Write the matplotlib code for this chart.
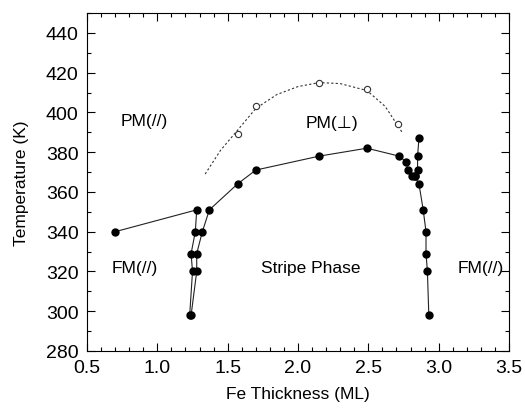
import matplotlib
matplotlib.use("Agg")
import matplotlib.pyplot as plt
from matplotlib.ticker import MultipleLocator

plt.rcParams['font.family'] = ['Liberation Sans', 'DejaVu Sans']

# left boundary: FM(//) -> PM and left edge of stripe phase
left_x = [0.70, 1.28, 1.27, 1.24, 1.25, 1.23]
left_T = [340, 351, 340, 329, 320, 298]

# stripe phase boundary (right side of left branch, top, right branch)
stripe_x = [1.24, 1.28, 1.28, 1.32, 1.37, 1.57, 1.70, 2.15, 2.49, 2.72, 2.77,
            2.78, 2.81, 2.83, 2.86, 2.89, 2.91, 2.91, 2.92, 2.93]
stripe_T = [298, 320, 329, 340, 351, 364, 371, 378, 382, 378, 375,
            371, 368, 368, 364, 351, 340, 329, 320, 298]

# branch going up at the right side
branch_x = [2.83, 2.85, 2.85, 2.86]
branch_T = [368, 371, 378, 387]

# PM(perp) -> PM(//) transition, open symbols
perp_x = [1.57, 1.70, 2.15, 2.49, 2.71]
perp_T = [389, 403, 415, 412, 394]

# guide-to-the-eye curve
guide_x = [1.34, 1.45, 1.57, 1.70, 1.85, 2.00, 2.15, 2.30, 2.49, 2.62, 2.74]
guide_T = [369, 381, 391, 402, 409, 413, 415, 414.5, 411, 403, 390]

fig = plt.figure(figsize=(5.25, 4.10), dpi=100)
ax = fig.add_axes([87 / 525, 1 - 352 / 410, (509 - 87) / 525, (352 - 14) / 410])

line_kw = dict(color='#222222', lw=0.8, marker='o', ms=5,
               mfc='black', mec='black')
ax.plot(left_x, left_T, **line_kw)
ax.plot(stripe_x, stripe_T, **line_kw)
ax.plot(branch_x, branch_T, **line_kw)

ax.plot(guide_x, guide_T, color='#333333', lw=0.8, ls=(0, (2, 2)))
ax.plot(perp_x, perp_T, ls='none', marker='o', ms=4.5, mfc='white',
        mec='#333333', mew=0.8)

txt = dict(fontsize=12.5, ha='center', va='center')
ax.text(0.91, 396, 'PM(//)', **txt)
ax.text(2.24, 395, 'PM(\u22a5)', **txt)
ax.text(0.84, 322, 'FM(//)', **txt)
ax.text(2.09, 322, 'Stripe Phase', **txt)
ax.text(3.30, 322, 'FM(//)', **txt)

ax.set_xlim(0.5, 3.5)
ax.set_ylim(280, 450)
ax.xaxis.set_major_locator(MultipleLocator(0.5))
ax.xaxis.set_minor_locator(MultipleLocator(0.1))
ax.yaxis.set_major_locator(MultipleLocator(20))
ax.yaxis.set_minor_locator(MultipleLocator(10))
ax.tick_params(which='both', direction='in', top=True, right=True,
               labelsize=14, width=0.8, pad=6)
ax.tick_params(which='major', length=6)
ax.tick_params(which='minor', length=3)
ax.set_yticks(range(280, 441, 20))
for s in ax.spines.values():
    s.set_linewidth(0.8)

ax.set_xlabel('Fe Thickness (ML)', fontsize=12.5, labelpad=7)
ax.set_ylabel('Temperature (K)', fontsize=12.5, labelpad=12)

fig.savefig('out.png', dpi=100)
